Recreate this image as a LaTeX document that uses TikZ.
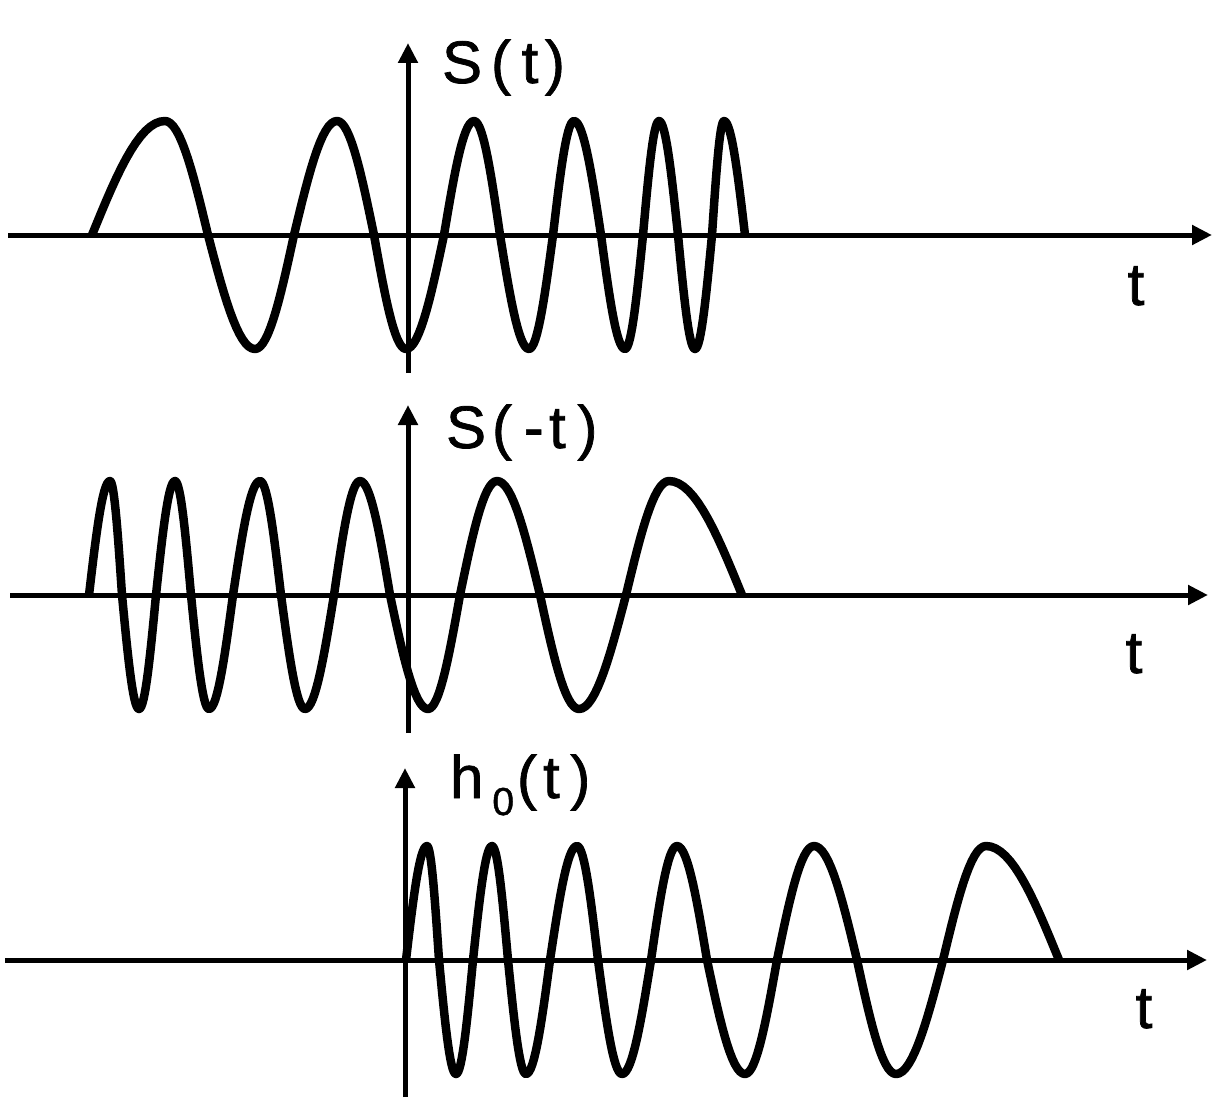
\documentclass[tikz,border=0pt]{standalone}
\usepackage{fontspec}
\setmainfont{Liberation Sans}
\newfontfamily\lblfont[FakeBold=1.2]{Liberation Sans}
\usetikzlibrary{arrows.meta}
\tikzset{
  axisline/.style={line width=5pt, -{Triangle[length=20pt,width=19pt]}},
  wave/.style={line width=8.5pt, line join=round},
  lbl/.style={inner sep=0pt, font=\lblfont\fontsize{60}{72}\selectfont},
}
\newcommand{\mychirp}{%
  \draw[wave] (92,235) \foreach \ua/\ub/\qa/\qb in {
    92/165/0/90, 165/208/90/180, 208/255/180/270, 255/294/270/360,
    294/337/360/450, 337/374/450/540, 374/406/540/630, 406/444/630/720,
    444/474/720/810, 474/500/810/900, 500/529/900/990, 529/553/990/1080,
    553/574/1080/1170, 574/601/1170/1260, 601/625/1260/1350, 625/643/1350/1440,
    643/659/1440/1530, 659/678/1530/1620, 678/695/1620/1710, 695/712/1710/1800,
    712/724/1800/1890, 724/745/1890/1980}
    { -- plot[domain=\qa:\qb, samples=16] ({\ua+(\ub-\ua)*(\x-\qa)/90},{235-114*sin(\x)}) };
}
\begin{document}
\begin{tikzpicture}[x=1pt, y=-1pt]
  \path[use as bounding box, fill=white] (0,0) rectangle (1217,1097);
  % axes coordinates
  \coordinate (h1l) at (8,235);   \coordinate (h1r) at (1212,235);
  \coordinate (v1b) at (408,373); \coordinate (v1t) at (408,43);
  \coordinate (h2l) at (10,595);  \coordinate (h2r) at (1208,595);
  \coordinate (v2b) at (408,733); \coordinate (v2t) at (408,405);
  \coordinate (h3l) at (5,960);   \coordinate (h3r) at (1207,960);
  \coordinate (v3b) at (405,1097); \coordinate (v3t) at (405,768);
  \draw[axisline] (h1l) -- (h1r);
  \draw[axisline] (v1b) -- (v1t);
  \draw[axisline] (h2l) -- (h2r);
  \draw[axisline] (v2b) -- (v2t);
  \draw[axisline] (h3l) -- (h3r);
  \draw[axisline] (v3b) -- (v3t);
  % waves
  \mychirp
  \begin{scope}[shift={(834,360)}, xscale=-1]
    \mychirp
  \end{scope}
  \begin{scope}[shift={(1151,725)}, xscale=-1]
    \mychirp
  \end{scope}
  % labels
  \node[lbl, anchor=base west] (lab1) at (441.85,83) {S\kern8.95pt(\kern10.7pt t\kern6.6pt)};
  \node[lbl, anchor=base west] (lab2) at (445.85,448) {S\kern5.95pt(\kern11.7pt-\kern5.5pt t\kern11.6pt)};
  \node[lbl, anchor=base west] (lab3) at (449.8,798) {h\kern9pt\raisebox{-17pt}{\fontsize{39}{39}\selectfont 0}\kern2.9pt(\kern6.2pt t\kern10.6pt)};
  \node[lbl, anchor=base] (t1) at (1136,305) {t};
  \node[lbl, anchor=base] (t2) at (1134,673) {t};
  \node[lbl, anchor=base] (t3) at (1144,1028) {t};
\end{tikzpicture}
\end{document}
